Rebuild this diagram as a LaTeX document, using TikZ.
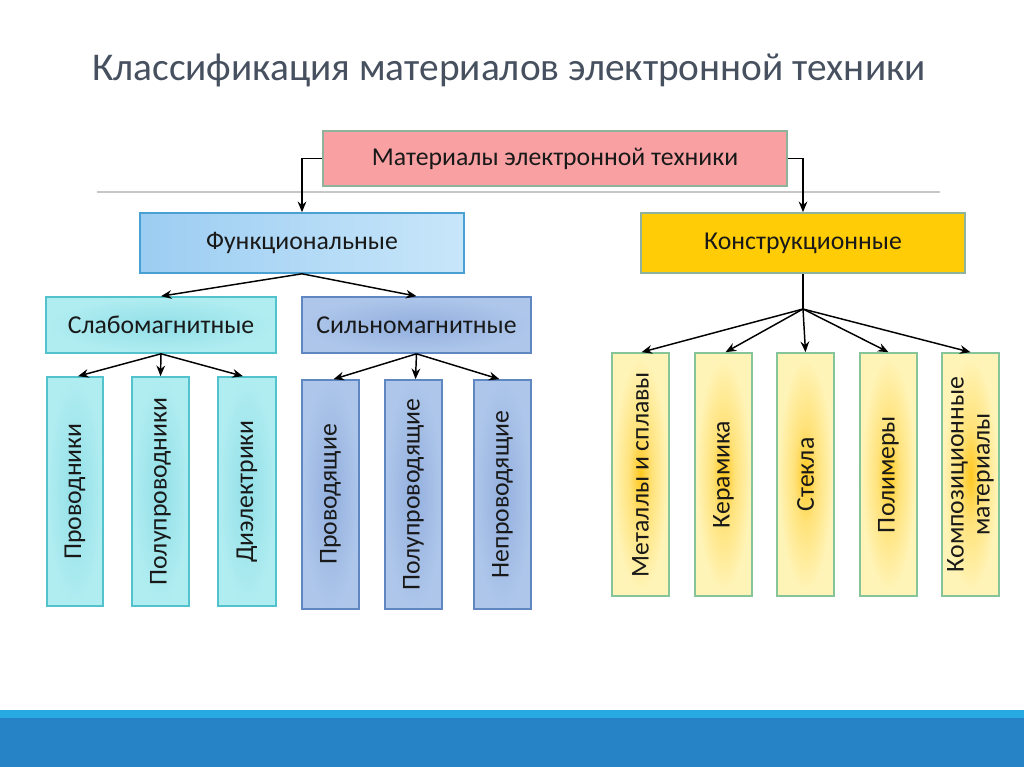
\documentclass[tikz,border=0pt]{standalone}
\usepackage{fontspec}
\setmainfont{Carlito}
\usetikzlibrary{arrows.meta,calc}
\definecolor{titlec}{HTML}{46505F}
\definecolor{pinkf}{HTML}{F9A0A2}
\definecolor{grayg}{HTML}{8FB39A}
\definecolor{bluel}{HTML}{9CCDF2}
\definecolor{bluer}{HTML}{C8E6FA}
\definecolor{blueb}{HTML}{4A9FD3}
\definecolor{gold}{HTML}{FFCC05}
\definecolor{cyani}{HTML}{92DFE7}
\definecolor{cyano}{HTML}{B0EDF1}
\definecolor{cyanb}{HTML}{52C3CC}
\definecolor{violi}{HTML}{92AFDE}
\definecolor{violo}{HTML}{AEC6EA}
\definecolor{violb}{HTML}{5F88C2}
\definecolor{yeli}{HTML}{FFC820}
\definecolor{yelm}{HTML}{FFE27A}
\definecolor{yelo}{HTML}{FFF4B8}
\definecolor{yelb}{HTML}{86C49A}
\definecolor{band1}{HTML}{27A9E1}
\definecolor{band2}{HTML}{2683C6}
\pgfdeclareradialshading{yelshade}{\pgfpoint{0bp}{0bp}}{color(0bp)=(yeli); color(10bp)=(yelm); color(24bp)=(yelo); color(50bp)=(yelo)}
\begin{document}
\begin{tikzpicture}[x=0.75pt,y=-0.75pt,
  sz/.style 2 args={minimum width={#1*0.75pt}, minimum height={#2*0.75pt}},
  box/.style={draw, line width=1.2pt, inner sep=0pt, font=\fontsize{19.3}{21}\selectfont, text=black!90},
  vbox/.style={box, rotate=90, align=center},
  ybox/.style={vbox, draw=yelb, shading=yelshade, sz={243}{57}},
  arr/.style={-{Stealth[length=8pt,width=6.5pt]}, line width=1.1pt, black},
  ln/.style={line width=1.1pt, black}]
\useasboundingbox (0,0) rectangle (1024,767);
\fill[white] (0,0) rectangle (1024,767);
% bottom band
\fill[band1] (0,710) rectangle (1024,718);
\fill[band2] (0,718) rectangle (1024,767);
% title
\node[text=titlec, font=\fontsize{29.5}{33}\selectfont] (title) at (509,70) {Классификация материалов электронной техники};
% separator line
\draw[black!22, line width=0.8pt] (97,192) -- (940,192);
% top node
\node[box, draw=grayg, fill=pinkf, sz={464}{55}] (top) at (555,158.5) {Материалы электронной техники};
\node[box, draw=blueb, left color=bluel, right color=bluer, sz={324}{60}] (func) at (302,243) {Функциональные};
\node[box, draw=grayg, fill=gold, sz={324}{60}] (kons) at (803,243) {Конструкционные};
\node[box, draw=cyanb, inner color=cyani, outer color=cyano, sz={230}{56}] (slab) at (161,325) {Слабомагнитные};
\node[box, draw=violb, inner color=violi, outer color=violo, sz={229}{56}] (siln) at (416.5,325) {Сильномагнитные};
% left leaves (rotated: width=height)
\node[vbox, draw=cyanb, inner color=cyani, outer color=cyano, sz={229}{56}] (p1) at (75,491.5) {Проводники};
\node[vbox, draw=cyanb, inner color=cyani, outer color=cyano, sz={229}{57}] (p2) at (160.5,491.5) {Полупроводники};
\node[vbox, draw=cyanb, inner color=cyani, outer color=cyano, sz={229}{58}] (p3) at (247,491.5) {Диэлектрики};
\node[vbox, draw=violb, inner color=violi, outer color=violo, sz={229}{57}] (s1) at (330.5,494.5) {Проводящие};
\node[vbox, draw=violb, inner color=violi, outer color=violo, sz={229}{57}] (s2) at (413.5,494.5) {Полупроводящие};
\node[vbox, draw=violb, inner color=violi, outer color=violo, sz={229}{57}] (s3) at (502.5,494.5) {Непроводящие};
% yellow leaves
\node[ybox] (y1) at (640.5,474.5) {Металлы и сплавы};
\node[ybox] (y2) at (723.5,474.5) {Керамика};
\node[ybox] (y3) at (805.5,474.5) {Стекла};
\node[ybox] (y4) at (888.5,474.5) {Полимеры};
\node[ybox, font=\fontsize{19.3}{19.5}\selectfont] (y5) at (970.5,474.5) {Композиционные\\материалы};
% connectors
\draw[arr] (top.west) -| (func.north);
\draw[arr] (top.east) -| (kons.north);
\draw[arr] (func.south) -- (slab.north);
\draw[arr] (func.south) -- (siln.north);
\draw[arr] (slab.south) -- ($(p1.east)+(3,0)$);
\draw[arr] (slab.south) -- (p2.east);
\draw[arr] (slab.south) -- ($(p3.east)+(-4,0)$);
\draw[arr] (siln.south) -- ($(s1.east)+(3,0)$);
\draw[arr] (siln.south) -- ($(s2.east)+(2,0)$);
\draw[arr] (siln.south) -- ($(s3.east)+(-3,0)$);
\coordinate (kj) at (803,309);
\draw[ln] (kons.south) -- (kj);
\draw[arr] (kj) -- ($(y1.east)+(1,0)$);
\draw[arr] (kj) -- ($(y2.east)+(2,0)$);
\draw[arr] (kj) -- (y3.east);
\draw[arr] (kj) -- (y4.east);
\draw[arr] (kj) -- (y5.east);
\end{tikzpicture}
\end{document}
